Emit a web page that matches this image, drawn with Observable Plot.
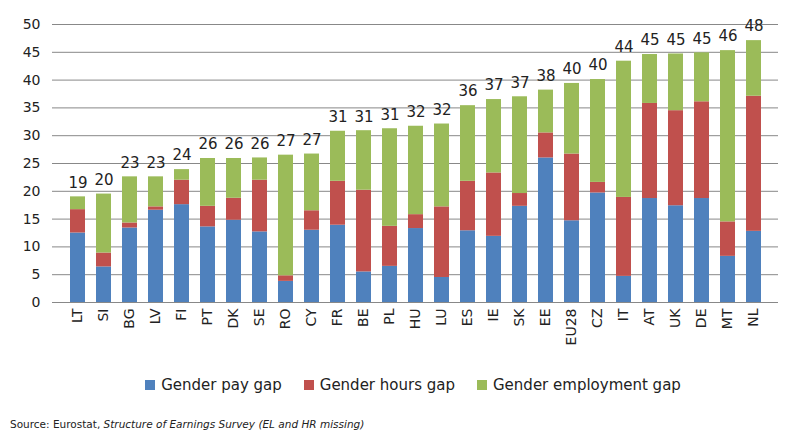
<!DOCTYPE html>
<html><head><meta charset="utf-8">
<script src="https://cdn.jsdelivr.net/npm/d3@7"></script>
<script src="https://cdn.jsdelivr.net/npm/@observablehq/plot@0.6"></script>
<style>
body{margin:0;background:#fff;font-family:"DejaVu Sans",sans-serif;}
#legend{display:flex;justify-content:center;gap:22px;font-size:15px;color:#222;margin-top:8px;margin-left:30px}
#legend span{display:inline-flex;align-items:center;gap:6px}
#legend i{display:inline-block;width:10px;height:10px}
#src{font-size:10.5px;margin:24px 0 0 10px;color:#222}
</style></head><body>
<div id="chart"></div>
<div id="legend"></div>
<div id="src">Source: Eurostat, <i>Structure of Earnings Survey (EL and HR missing)</i></div>
<script>
const countries=["LT","SI","BG","LV","FI","PT","DK","SE","RO","CY","FR","BE","PL","HU","LU","ES","IE","SK","EE","EU28","CZ","IT","AT","UK","DE","MT","NL"];
const payGap=[12.5,6.4,13.4,16.6,17.6,13.6,14.8,12.7,3.8,13.0,13.9,5.5,6.5,13.3,4.5,12.9,11.9,17.3,26.0,14.7,19.7,4.7,18.7,17.4,18.7,8.3,12.8];
const hoursGap=[4.2,2.5,0.9,0.6,4.4,3.7,3.95,9.3,1.0,3.5,7.9,14.7,7.2,2.5,12.7,8.9,11.4,2.3,4.5,12.0,1.9,14.2,17.1,17.1,17.4,6.2,24.3];
const employmentGap=[2.3,10.6,8.3,5.4,1.9,8.6,7.15,4.0,21.7,10.2,9.0,10.7,17.55,15.9,14.9,13.6,13.2,17.4,7.7,12.7,18.5,24.5,8.8,10.2,8.8,30.8,10.0];
const totalLabels=[19,20,23,23,24,26,26,26,27,27,31,31,31,32,32,36,37,37,38,40,40,44,45,45,45,46,48];
const series=["Gender pay gap","Gender hours gap","Gender employment gap"];
const colors=["#4F81BD","#C0504D","#9BBB59"];
const vals=[payGap,hoursGap,employmentGap];
const data=[];
countries.forEach((c,i)=>series.forEach((s,j)=>data.push({country:c,series:s,value:vals[j][i]})));
const totals=countries.map((c,i)=>({country:c,total:payGap[i]+hoursGap[i]+employmentGap[i],label:totalLabels[i]}));
const chart=Plot.plot({
  width:796,height:368,marginLeft:52,marginRight:18,marginTop:24,marginBottom:66,
  style:{fontFamily:"DejaVu Sans, sans-serif",fontSize:"14px",color:"#222"},
  x:{domain:countries,paddingInner:0.44,paddingOuter:0.22,label:null,tickRotate:-90,tickSize:0,tickPadding:6},
  y:{domain:[0,50],ticks:d3.range(0,51,5),label:null,tickSize:0,tickPadding:12},
  color:{domain:series,range:colors},
  marks:[
    Plot.gridY(d3.range(5,51,5),{stroke:"#888",strokeOpacity:1}),
    Plot.barY(data,{x:"country",y:"value",fill:"series",order:series}),
    Plot.ruleY([0],{stroke:"#888"}),
    Plot.text(totals,{x:"country",y:"total",text:"label",dy:-14,fontSize:15,fill:"#222"})
  ]
});
document.getElementById("chart").appendChild(chart);
document.getElementById("legend").innerHTML=series.map((s,i)=>`<span><i style="background:${colors[i]}"></i>${s}</span>`).join("");
</script>
</body></html>
